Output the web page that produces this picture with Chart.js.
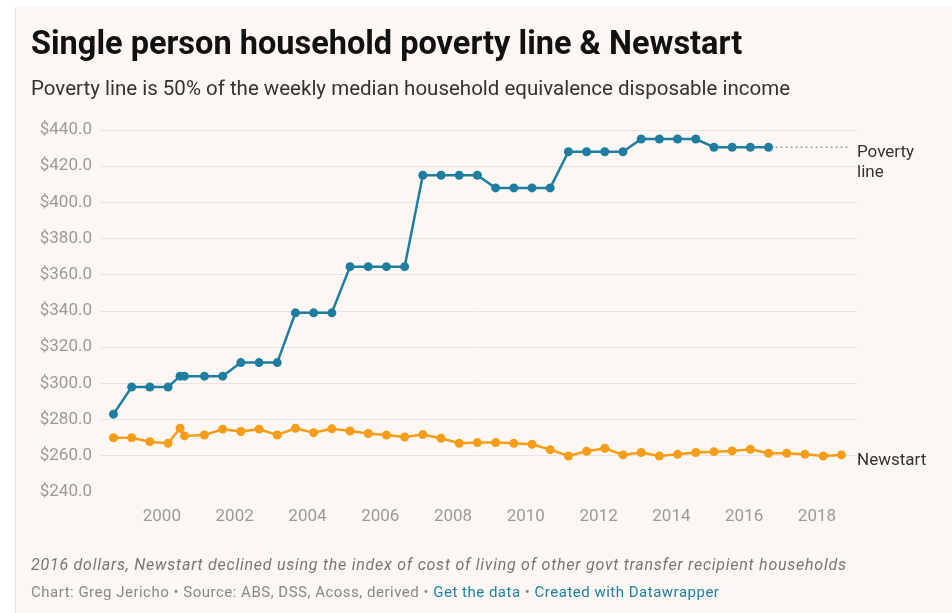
<!DOCTYPE html>
<html lang="en">
<head>
    <meta charset="UTF-8">
    <title>Single person household poverty line & Newstart</title>
    <script src="https://cdn.jsdelivr.net/npm/chart.js"></script>
    <style>
        html, body { margin: 0; padding: 0; background: #fff; }
        body { width: 952px; height: 613px; position: relative; overflow: hidden; font-family: Roboto, "Noto Sans", sans-serif; }
        .panel { position: absolute; left: 15px; top: 7px; right: 0; bottom: 0; background: #fdf7f4; border-left: 1px solid #e9e4e1; }
        #chart { position: absolute; left: 0; top: 0; }
        .title { position: absolute; left: 31px; top: 27px; margin: 0; font-size: 32.5px; line-height: 32px; font-weight: 700; color: #111; white-space: nowrap; }
        .subtitle { position: absolute; left: 31px; top: 77px; margin: 0; font-size: 20.5px; line-height: 22px; color: #333; white-space: nowrap; }
        .note { position: absolute; left: 31px; top: 556px; font-size: 16px; line-height: 18px; letter-spacing: 0.75px; font-style: italic; color: #777; white-space: nowrap; }
        .source { position: absolute; left: 31px; top: 583px; font-size: 15px; line-height: 18px; letter-spacing: 0.5px; color: #888; white-space: nowrap; }
        .source a { color: #1d81a2; text-decoration: none; }
    </style>
</head>
<body>
    <div class="panel"></div>
    <canvas id="chart" width="952" height="613"></canvas>
    <h1 class="title">Single person household poverty line &amp; Newstart</h1>
    <p class="subtitle">Poverty line is 50% of the weekly median household equivalence disposable income</p>
    <div class="note">2016 dollars, Newstart declined using the index of cost of living of other govt transfer recipient households</div>
    <div class="source">Chart: Greg Jericho • Source: ABS, DSS, Acoss, derived • <a>Get the data</a> • <a>Created with Datawrapper</a></div>

    <script>
        // half-yearly observations (decimal years), plus the GST quarter in 2000
        const dates = [
            1998.67, 1999.17, 1999.67, 2000.17, 2000.5, 2000.62, 2001.17, 2001.67,
            2002.17, 2002.67, 2003.17, 2003.67, 2004.17, 2004.67, 2005.17, 2005.67,
            2006.17, 2006.67, 2007.17, 2007.67, 2008.17, 2008.67, 2009.17, 2009.67,
            2010.17, 2010.67, 2011.17, 2011.67, 2012.17, 2012.67, 2013.17, 2013.67,
            2014.17, 2014.67, 2015.17, 2015.67, 2016.17, 2016.67, 2017.17, 2017.67,
            2018.17, 2018.67
        ];
        const povertyLine = [
            283, 298, 298, 298, 304, 304, 304, 304,
            311.5, 311.5, 311.5, 339, 339, 339, 364.5, 364.5,
            364.5, 364.5, 415, 415, 415, 415, 408, 408,
            408, 408, 428, 428, 428, 428, 435, 435,
            435, 435, 430.5, 430.5, 430.5, 430.5
        ];
        const newstart = [
            270, 270, 267.8, 266.9, 275.2, 271, 271.5, 274.7,
            273.4, 274.7, 271.5, 275.2, 272.8, 274.9, 273.7, 272.3,
            271.5, 270.4, 271.7, 269.7, 266.9, 267.3, 267.3, 266.9,
            266.4, 263.4, 259.9, 262.5, 264.2, 260.5, 261.8, 259.9,
            260.8, 261.8, 262.3, 262.7, 263.6, 261.4, 261.4, 260.8,
            259.9, 260.5
        ];
        const yearTicks = [2000, 2002, 2004, 2006, 2008, 2010, 2012, 2014, 2016, 2018];
        const dollarTicks = [240, 260, 280, 300, 320, 340, 360, 380, 400, 420, 440];

        const blue = '#1f7e9f';
        const orange = '#f59c18';

        function toPoints(values) {
            return values.map((v, i) => ({ x: dates[i], y: v }));
        }

        // direct labels at the right end of each line
        const endLabels = {
            id: 'endLabels',
            afterDatasetsDraw(chart) {
                const { ctx, chartArea } = chart;
                const xs = chart.scales.x, ys = chart.scales.y;
                ctx.save();
                const pi = povertyLine.length - 1;
                const py = ys.getPixelForValue(povertyLine[pi]);
                ctx.strokeStyle = '#777';
                ctx.lineWidth = 1;
                ctx.setLineDash([2, 3]);
                ctx.beginPath();
                ctx.moveTo(xs.getPixelForValue(dates[pi]) + 7, py);
                ctx.lineTo(chartArea.right - 8, py);
                ctx.stroke();
                ctx.setLineDash([]);

                ctx.fillStyle = '#333';
                ctx.font = '17px Roboto';
                ctx.textBaseline = 'top';
                ctx.textAlign = 'left';
                ctx.fillText('Poverty', chartArea.right, py - 3);
                ctx.fillText('line', chartArea.right, py + 17);
                const ny = ys.getPixelForValue(newstart[newstart.length - 1]);
                ctx.fillText('Newstart', chartArea.right, ny - 3);
                ctx.restore();
            }
        };

        const ctx = document.getElementById('chart').getContext('2d');
        const chart = new Chart(ctx, {
            type: 'line',
            data: {
                datasets: [
                    {
                        label: 'Newstart',
                        data: toPoints(newstart),
                        borderColor: orange,
                        backgroundColor: orange,
                        borderWidth: 2.5,
                        pointRadius: 4.5,
                        pointBorderWidth: 0,
                        tension: 0,
                    },
                    {
                        label: 'Poverty line',
                        data: toPoints(povertyLine),
                        borderColor: blue,
                        backgroundColor: blue,
                        borderWidth: 2.5,
                        pointRadius: 4.5,
                        pointBorderWidth: 0,
                        tension: 0,
                    },
                ],
            },
            options: {
                responsive: false,
                animation: false,
                layout: { padding: { left: 0, right: 95, top: 130, bottom: 91 } },
                plugins: {
                    legend: { display: false },
                    tooltip: { enabled: false },
                },
                scales: {
                    x: {
                        type: 'linear',
                        min: 1998.3,
                        max: 2019.1,
                        grid: { display: false },
                        border: { display: false },
                        afterBuildTicks: (scale) => { scale.ticks = yearTicks.map(v => ({ value: v })); },
                        afterFit: (scale) => { scale.height = 30; },
                        ticks: {
                            color: '#9a9a9a',
                            font: { family: 'Roboto', size: 17 },
                            padding: 7,
                            maxRotation: 0,
                            autoSkip: false,
                            callback: (v) => String(v),
                        },
                    },
                    y: {
                        min: 240,
                        max: 440,
                        afterBuildTicks: (scale) => { scale.ticks = dollarTicks.map(v => ({ value: v })); },
                        afterFit: (scale) => { scale.width = 100; },
                        grid: {
                            drawTicks: false,
                            color: (c) => c.tick && c.tick.value === 240 ? 'rgba(0,0,0,0)' : '#e9e3df',
                        },
                        border: { display: false },
                        ticks: {
                            color: '#9a9a9a',
                            font: { family: 'Roboto', size: 17 },
                            padding: 8,
                            callback: (v) => '$' + v.toFixed(1),
                        },
                    },
                },
            },
            plugins: [endLabels],
        });
    </script>
</body>
</html>
